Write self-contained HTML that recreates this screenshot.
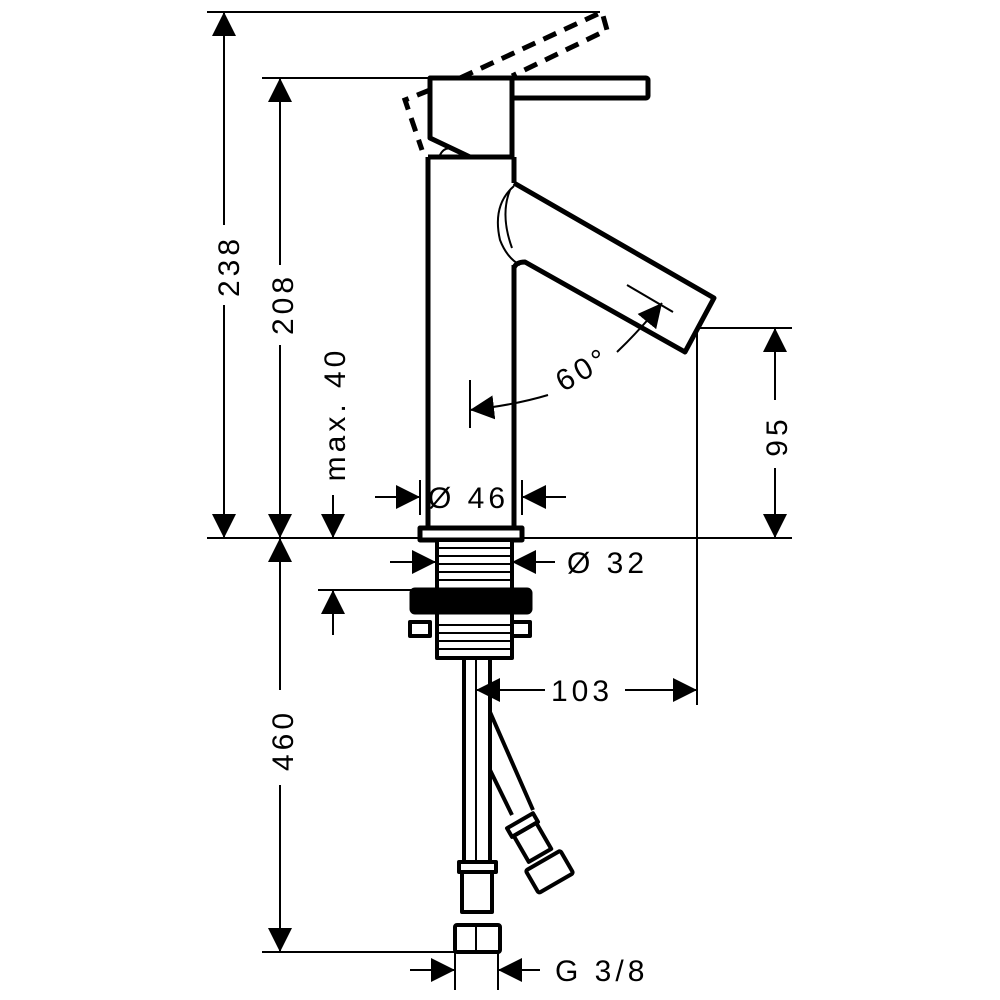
<!DOCTYPE html>
<html><head><meta charset="utf-8"><style>
html,body{margin:0;padding:0;background:#fff}
svg{display:block}
text{font-family:"Liberation Sans",sans-serif;font-size:30px;fill:#000;letter-spacing:4px}
</style></head><body>
<svg width="1000" height="1000" viewBox="0 0 1000 1000" xmlns="http://www.w3.org/2000/svg">
<defs>
<marker id="a" viewBox="0 0 10 10" refX="10" refY="5" markerWidth="24" markerHeight="24" markerUnits="userSpaceOnUse" orient="auto"><path d="M0,0 L10,5 L0,10z" fill="#000"/></marker>
</defs>
<g stroke="#000" stroke-width="2" fill="none">
<line x1="207" y1="12" x2="600" y2="12"/>
<line x1="262" y1="78" x2="430" y2="78"/>
<line x1="207" y1="538" x2="792" y2="538"/>
<line x1="700" y1="328" x2="792" y2="328"/>
<line x1="697" y1="328" x2="697" y2="705"/>
<line x1="318" y1="590" x2="415" y2="590"/>
<line x1="262" y1="952" x2="455" y2="952"/>
<line x1="420" y1="480" x2="420" y2="515"/>
<line x1="522" y1="480" x2="522" y2="515"/>
<line x1="470" y1="380" x2="470" y2="428"/>
<line x1="627" y1="285" x2="673" y2="312"/>
<line x1="476" y1="660" x2="476" y2="705"/>
<line x1="455" y1="952" x2="455" y2="990"/>
<line x1="498" y1="952" x2="498" y2="990"/>
<line x1="224" y1="225" x2="224" y2="12" marker-end="url(#a)"/>
<line x1="224" y1="305" x2="224" y2="538" marker-end="url(#a)"/>
<line x1="280" y1="265" x2="280" y2="78" marker-end="url(#a)"/>
<line x1="280" y1="345" x2="280" y2="538" marker-end="url(#a)"/>
<line x1="333" y1="495" x2="333" y2="538" marker-end="url(#a)"/>
<line x1="333" y1="635" x2="333" y2="590" marker-end="url(#a)"/>
<line x1="280" y1="690" x2="280" y2="538" marker-end="url(#a)"/>
<line x1="280" y1="785" x2="280" y2="952" marker-end="url(#a)"/>
<line x1="775" y1="400" x2="775" y2="328" marker-end="url(#a)"/>
<line x1="775" y1="468" x2="775" y2="538" marker-end="url(#a)"/>
<line x1="545" y1="690" x2="476" y2="690" marker-end="url(#a)"/>
<line x1="625" y1="690" x2="697" y2="690" marker-end="url(#a)"/>
<line x1="375" y1="497" x2="420" y2="497" marker-end="url(#a)"/>
<line x1="566" y1="497" x2="522" y2="497" marker-end="url(#a)"/>
<line x1="390" y1="562" x2="436" y2="562" marker-end="url(#a)"/>
<line x1="555" y1="562" x2="512" y2="562" marker-end="url(#a)"/>
<line x1="410" y1="970" x2="455" y2="970" marker-end="url(#a)"/>
<line x1="540" y1="970" x2="498" y2="970" marker-end="url(#a)"/>
<path d="M548,395 Q515,405 470,410" marker-end="url(#a)"/>
<path d="M617,352 Q640,330 662,303" marker-end="url(#a)"/>
</g>
<g stroke="#000" stroke-width="5" fill="none" stroke-linejoin="round">
<polygon points="430,78 512,78 512,157 470,157 430,138" fill="#fff"/>
<rect x="512" y="78" width="136" height="20" rx="2" fill="#fff"/>
<path d="M428,157 L514,157 M428,157 L428,528 M514,157 L514,183 M514,265 L514,528"/>
<path d="M514,183 L714,298 L685,352 L525,262 Q516,262 514,268"/>
<rect x="420" y="528" width="102" height="12" fill="#fff"/>
<rect x="437" y="540" width="75" height="50" fill="#fff" stroke-width="4"/>
<rect x="412" y="590" width="118" height="22" rx="3" fill="#000"/>
<rect x="437" y="612" width="75" height="46" stroke-width="4"/>
<rect x="410" y="622" width="20" height="14" stroke-width="4"/>
<rect x="512" y="622" width="18" height="14" stroke-width="4"/>
<path d="M464,660 L464,862 M490,660 L490,862" stroke-width="4"/>
<path d="M490,712 L533,810 M490,770 L512,815" stroke-width="4"/>
<rect x="459" y="862" width="37" height="10" stroke-width="4"/>
<rect x="462" y="872" width="30" height="40" stroke-width="4"/>
<rect x="455" y="925" width="45" height="27" rx="2" stroke-width="4"/>
<g transform="translate(534,845) rotate(-30)">
<rect x="-15" y="-28" width="30" height="10" stroke-width="4"/>
<rect x="-13" y="-18" width="26" height="30" stroke-width="4"/>
<rect x="-20" y="18" width="40" height="26" rx="2" stroke-width="4"/>
</g>
</g>
<g stroke="#000" stroke-width="2" fill="none">
<path d="M514,186 Q492,205 500,240 Q507,258 520,265"/>
<path d="M510,190 Q500,215 512,248"/>
<path d="M437,548 H512 M437,556 H512 M437,564 H512 M437,572 H512 M437,580 H512"/>
<path d="M437,625 H512 M437,633 H512 M437,641 H512 M437,649 H512"/>
<line x1="476" y1="660" x2="476" y2="862"/>
<line x1="476" y1="925" x2="476" y2="952"/>
<path d="M440,155 Q445,145 455,150"/>
</g>
<g stroke="#000" stroke-width="5" fill="none" stroke-dasharray="14,9">
<path d="M460,78 L602,12 L607,30 L512,76"/>
<path d="M430,90 L405,100 L422,150"/>
</g>
<text transform="translate(239,266) rotate(-90)" text-anchor="middle">238</text>
<text transform="translate(293,304) rotate(-90)" text-anchor="middle">208</text>
<text transform="translate(345,414) rotate(-90)" text-anchor="middle">max. 40</text>
<text transform="translate(293,740) rotate(-90)" text-anchor="middle">460</text>
<text transform="translate(787,436) rotate(-90)" text-anchor="middle">95</text>
<text x="582" y="701" text-anchor="middle">103</text>
<text x="428" y="508">Ø 46</text>
<text x="567" y="573">Ø 32</text>
<text x="555" y="981">G 3/8</text>
<text transform="translate(588,378) rotate(-30)" text-anchor="middle">60°</text>
</svg>
</body></html>
